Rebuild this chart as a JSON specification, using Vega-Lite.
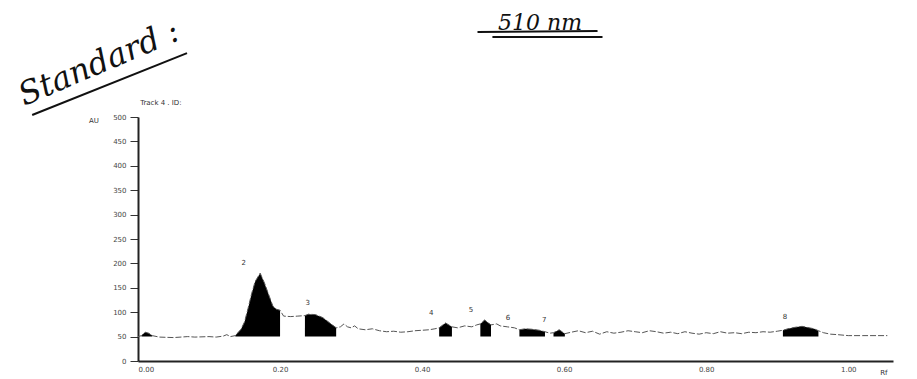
{
  "$schema": "https://vega.github.io/schema/vega-lite/v6.json",
  "width": 755,
  "height": 244,
  "autosize": "none",
  "padding": {"left": 138, "top": 117, "right": 24, "bottom": 18},
  "background": "white",
  "config": {"view": {"stroke": null}},
  "datasets": {
    "trace": [
      {"rf": 0.000, "au": 50, "peak": null},
      {"rf": 0.005, "au": 52, "peak": "1"},
      {"rf": 0.010, "au": 59, "peak": "1"},
      {"rf": 0.015, "au": 57, "peak": "1"},
      {"rf": 0.020, "au": 52, "peak": "1"},
      {"rf": 0.030, "au": 49, "peak": null},
      {"rf": 0.050, "au": 48, "peak": null},
      {"rf": 0.070, "au": 50, "peak": null},
      {"rf": 0.080, "au": 49, "peak": null},
      {"rf": 0.100, "au": 50, "peak": null},
      {"rf": 0.110, "au": 49, "peak": null},
      {"rf": 0.120, "au": 51, "peak": null},
      {"rf": 0.125, "au": 54, "peak": null},
      {"rf": 0.130, "au": 50, "peak": null},
      {"rf": 0.137, "au": 52, "peak": "2"},
      {"rf": 0.145, "au": 65, "peak": "2"},
      {"rf": 0.150, "au": 80, "peak": "2"},
      {"rf": 0.155, "au": 108, "peak": "2"},
      {"rf": 0.160, "au": 138, "peak": "2"},
      {"rf": 0.165, "au": 163, "peak": "2"},
      {"rf": 0.172, "au": 180, "peak": "2"},
      {"rf": 0.178, "au": 160, "peak": "2"},
      {"rf": 0.185, "au": 132, "peak": "2"},
      {"rf": 0.190, "au": 112, "peak": "2"},
      {"rf": 0.195, "au": 106, "peak": "2"},
      {"rf": 0.200, "au": 104, "peak": "2"},
      {"rf": 0.205, "au": 92, "peak": null},
      {"rf": 0.215, "au": 91, "peak": null},
      {"rf": 0.225, "au": 92, "peak": null},
      {"rf": 0.235, "au": 93, "peak": "3"},
      {"rf": 0.240, "au": 96, "peak": "3"},
      {"rf": 0.250, "au": 95, "peak": "3"},
      {"rf": 0.260, "au": 89, "peak": "3"},
      {"rf": 0.270, "au": 78, "peak": "3"},
      {"rf": 0.279, "au": 68, "peak": "3"},
      {"rf": 0.285, "au": 70, "peak": null},
      {"rf": 0.290, "au": 76, "peak": null},
      {"rf": 0.295, "au": 70, "peak": null},
      {"rf": 0.300, "au": 68, "peak": null},
      {"rf": 0.305, "au": 72, "peak": null},
      {"rf": 0.310, "au": 66, "peak": null},
      {"rf": 0.320, "au": 64, "peak": null},
      {"rf": 0.330, "au": 66, "peak": null},
      {"rf": 0.340, "au": 62, "peak": null},
      {"rf": 0.350, "au": 60, "peak": null},
      {"rf": 0.360, "au": 61, "peak": null},
      {"rf": 0.370, "au": 59, "peak": null},
      {"rf": 0.380, "au": 60, "peak": null},
      {"rf": 0.390, "au": 62, "peak": null},
      {"rf": 0.400, "au": 63, "peak": null},
      {"rf": 0.410, "au": 64, "peak": null},
      {"rf": 0.418, "au": 66, "peak": null},
      {"rf": 0.424, "au": 68, "peak": "4"},
      {"rf": 0.433, "au": 78, "peak": "4"},
      {"rf": 0.442, "au": 70, "peak": "4"},
      {"rf": 0.450, "au": 68, "peak": null},
      {"rf": 0.460, "au": 72, "peak": null},
      {"rf": 0.470, "au": 70, "peak": null},
      {"rf": 0.477, "au": 74, "peak": null},
      {"rf": 0.482, "au": 76, "peak": "5"},
      {"rf": 0.488, "au": 84, "peak": "5"},
      {"rf": 0.497, "au": 74, "peak": "5"},
      {"rf": 0.505, "au": 76, "peak": null},
      {"rf": 0.510, "au": 72, "peak": null},
      {"rf": 0.520, "au": 70, "peak": null},
      {"rf": 0.530, "au": 68, "peak": null},
      {"rf": 0.537, "au": 64, "peak": "6"},
      {"rf": 0.545, "au": 66, "peak": "6"},
      {"rf": 0.555, "au": 65, "peak": "6"},
      {"rf": 0.565, "au": 63, "peak": "6"},
      {"rf": 0.573, "au": 60, "peak": "6"},
      {"rf": 0.580, "au": 57, "peak": null},
      {"rf": 0.585, "au": 58, "peak": "7"},
      {"rf": 0.593, "au": 64, "peak": "7"},
      {"rf": 0.601, "au": 56, "peak": "7"},
      {"rf": 0.610, "au": 59, "peak": null},
      {"rf": 0.620, "au": 62, "peak": null},
      {"rf": 0.630, "au": 58, "peak": null},
      {"rf": 0.640, "au": 61, "peak": null},
      {"rf": 0.650, "au": 55, "peak": null},
      {"rf": 0.660, "au": 60, "peak": null},
      {"rf": 0.670, "au": 57, "peak": null},
      {"rf": 0.680, "au": 59, "peak": null},
      {"rf": 0.690, "au": 62, "peak": null},
      {"rf": 0.700, "au": 60, "peak": null},
      {"rf": 0.710, "au": 58, "peak": null},
      {"rf": 0.720, "au": 62, "peak": null},
      {"rf": 0.730, "au": 60, "peak": null},
      {"rf": 0.740, "au": 57, "peak": null},
      {"rf": 0.750, "au": 59, "peak": null},
      {"rf": 0.760, "au": 56, "peak": null},
      {"rf": 0.770, "au": 60, "peak": null},
      {"rf": 0.780, "au": 57, "peak": null},
      {"rf": 0.790, "au": 55, "peak": null},
      {"rf": 0.800, "au": 58, "peak": null},
      {"rf": 0.810, "au": 56, "peak": null},
      {"rf": 0.820, "au": 60, "peak": null},
      {"rf": 0.830, "au": 57, "peak": null},
      {"rf": 0.840, "au": 58, "peak": null},
      {"rf": 0.850, "au": 56, "peak": null},
      {"rf": 0.860, "au": 59, "peak": null},
      {"rf": 0.870, "au": 58, "peak": null},
      {"rf": 0.880, "au": 60, "peak": null},
      {"rf": 0.890, "au": 59, "peak": null},
      {"rf": 0.900, "au": 61, "peak": null},
      {"rf": 0.908, "au": 63, "peak": "8"},
      {"rf": 0.915, "au": 66, "peak": "8"},
      {"rf": 0.925, "au": 69, "peak": "8"},
      {"rf": 0.935, "au": 71, "peak": "8"},
      {"rf": 0.945, "au": 68, "peak": "8"},
      {"rf": 0.952, "au": 66, "peak": "8"},
      {"rf": 0.958, "au": 62, "peak": "8"},
      {"rf": 0.965, "au": 58, "peak": null},
      {"rf": 0.975, "au": 55, "peak": null},
      {"rf": 0.985, "au": 54, "peak": null},
      {"rf": 1.000, "au": 52, "peak": null},
      {"rf": 1.020, "au": 52, "peak": null},
      {"rf": 1.040, "au": 52, "peak": null},
      {"rf": 1.055, "au": 52, "peak": null}
    ],
    "labels": [
      {"rf": 0.149, "au": 201, "label": "2"},
      {"rf": 0.239, "au": 119, "label": "3"},
      {"rf": 0.413, "au": 98, "label": "4"},
      {"rf": 0.469, "au": 104, "label": "5"},
      {"rf": 0.521, "au": 88, "label": "6"},
      {"rf": 0.572, "au": 84, "label": "7"},
      {"rf": 0.911, "au": 90, "label": "8"}
    ],
    "notes": [
      {"rf": 0.003, "au": 529, "label": "Track  4 . ID:"},
      {"rf": -0.069, "au": 492, "label": "AU"},
      {"rf": 1.045, "au": -25, "label": "Rf"}
    ],
    "hand": [
      {"rf": -0.055, "au": 610, "label": "Standard :", "angle": -23, "size": 32},
      {"rf": 0.566, "au": 693, "label": "510 nm", "angle": 0, "size": 22}
    ],
    "underlines": [
      {"rf": -0.149, "au": 504, "rf2": 0.069, "au2": 631},
      {"rf": 0.478, "au": 674, "rf2": 0.647, "au2": 676},
      {"rf": 0.499, "au": 664, "rf2": 0.654, "au2": 664}
    ]
  },
  "encoding": {
    "x": {"field": "rf", "type": "quantitative", "scale": {"domain": [0, 1.063], "nice": false, "zero": false},
      "axis": {"values": [0, 0.2, 0.4, 0.6, 0.8, 1.0], "format": ".2f", "title": null, "grid": false, "ticks": false, "labelOverlap": false,
        "domainColor": "#222", "domainWidth": 2, "labelFont": "DejaVu Sans", "labelFontSize": 7, "labelColor": "#444", "labelPadding": 4}},
    "y": {"field": "au", "type": "quantitative", "scale": {"domain": [0, 500], "nice": false},
      "axis": {"values": [0, 50, 100, 150, 200, 250, 300, 350, 400, 450, 500], "title": null, "grid": false, "labelOverlap": false,
        "domainColor": "#222", "domainWidth": 2, "tickColor": "#333", "tickSize": 8, "tickWidth": 1,
        "labelFont": "DejaVu Sans", "labelFontSize": 7, "labelColor": "#444", "labelPadding": 4}}
  },
  "layer": [
    {
      "data": {"name": "trace"},
      "transform": [{"filter": "datum.peak != null"}],
      "mark": {"type": "area", "color": "black", "clip": false},
      "encoding": {
        "y2": {"datum": 50},
        "detail": {"field": "peak"}
      }
    },
    {
      "data": {"name": "trace"},
      "mark": {"type": "line", "color": "#555", "strokeWidth": 1, "strokeDash": [6, 2], "clip": false},
      "encoding": {}
    },
    {
      "data": {"name": "labels"},
      "mark": {"type": "text", "font": "DejaVu Sans", "fontSize": 7, "color": "#333"},
      "encoding": {"text": {"field": "label"}}
    },
    {
      "data": {"name": "notes"},
      "mark": {"type": "text", "font": "DejaVu Sans", "fontSize": 7, "color": "#333", "align": "left"},
      "encoding": {"text": {"field": "label"}}
    },
    {
      "data": {"name": "hand"},
      "mark": {"type": "text", "font": "DejaVu Serif", "fontStyle": "italic", "color": "#111", "align": "center", "baseline": "middle"},
      "encoding": {
        "text": {"field": "label"},
        "angle": {"field": "angle", "type": "quantitative", "scale": null},
        "size": {"field": "size", "type": "quantitative", "scale": null}
      }
    },
    {
      "data": {"name": "underlines"},
      "mark": {"type": "rule", "color": "#111", "strokeWidth": 2},
      "encoding": {
        "x2": {"field": "rf2"},
        "y2": {"field": "au2"}
      }
    }
  ]
}
